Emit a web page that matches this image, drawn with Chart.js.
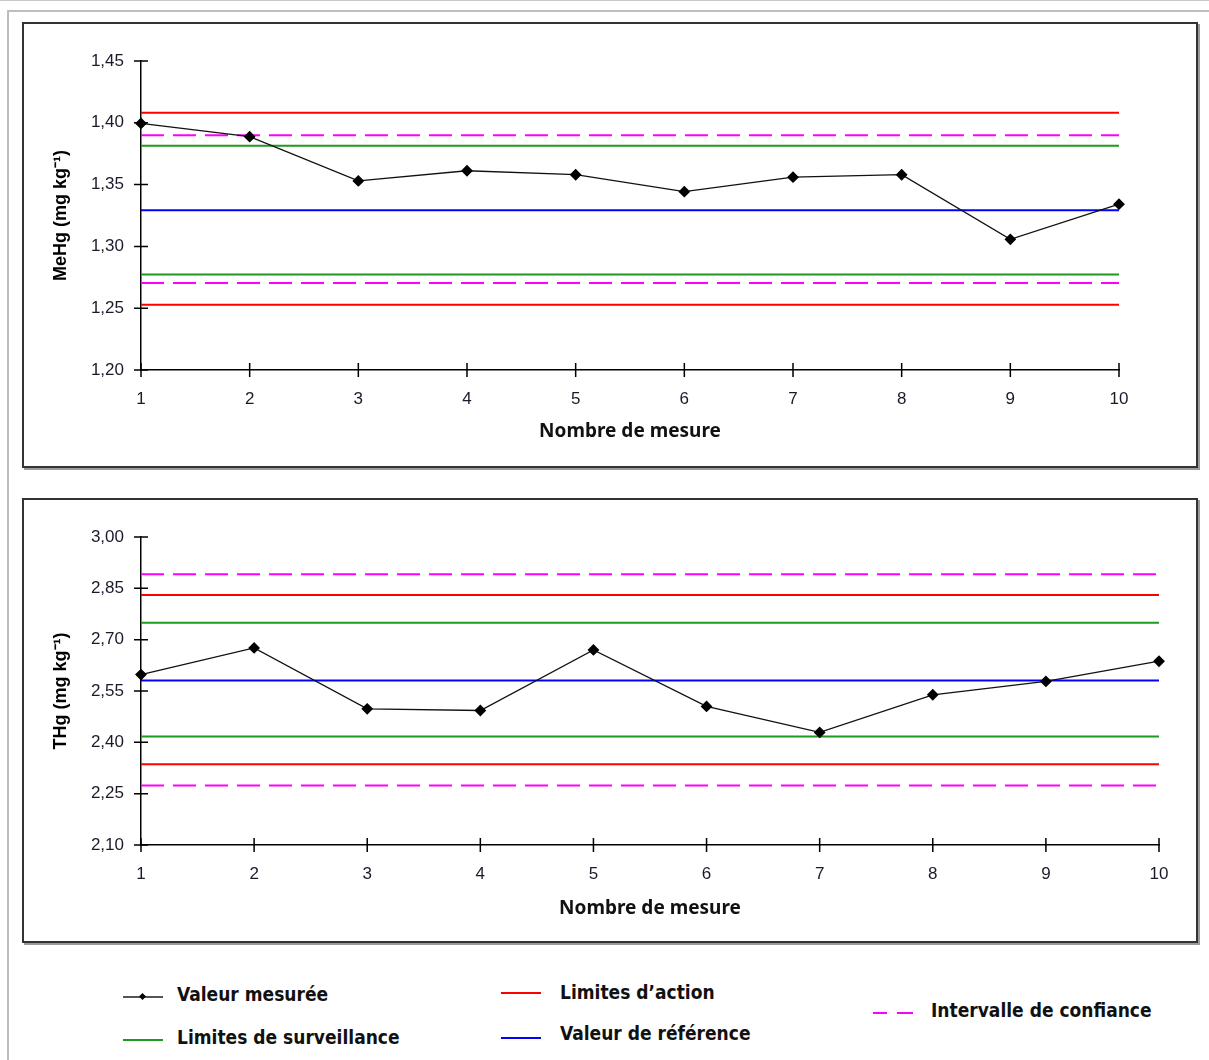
<!DOCTYPE html>
<html>
<head>
<meta charset="utf-8">
<script src="https://cdn.jsdelivr.net/npm/chart.js@4/dist/chart.umd.min.js"></script>
<style>
    body { margin: 0; background: #fff; width: 1209px; height: 1060px; overflow: hidden; position: relative; }
    .topline { position: absolute; left: 0; top: 0; width: 1209px; height: 1px; background: #c8c8c8; }
    .frame { position: absolute; left: 7px; top: 10px; width: 1210px; height: 1060px; border-top: 2px solid #bdbdbd; border-left: 2px solid #bdbdbd; }
    .box { position: absolute; left: 22px; width: 1172px; border: 2px solid #333; box-shadow: 2px 2px 0 #9a9a9a; background: #fff; }
    .box canvas { display: block; }
    .leg { position: absolute; font-family: "Liberation Sans Narrow", "DejaVu Sans Condensed", "Liberation Sans", sans-serif; font-weight: bold; font-size: 19px; color: #111; white-space: nowrap; line-height: 1; }
    .swatch { position: absolute; width: 40px; height: 0; }
</style>
</head>
<body>
<div class="topline"></div>
<div class="frame"></div>

<div class="box" style="top: 22px; height: 442px;"><canvas id="mehgChart" width="1172" height="442"></canvas></div>
<div class="box" style="top: 498px; height: 441px;"><canvas id="thgChart" width="1172" height="441"></canvas></div>

<div class="swatch" style="left: 123px; top: 996px; border-top: 2px solid #555;"></div>
<div style="position: absolute; left: 140px; top: 994px; width: 5px; height: 5px; background: #000; transform: rotate(45deg);"></div>
<div class="leg" style="left: 177px; top: 985px;">Valeur mesurée</div>

<div class="swatch" style="left: 123px; top: 1039px; border-top: 2px solid #1f9a1f;"></div>
<div class="leg" style="left: 177px; top: 1028px;">Limites de surveillance</div>

<div class="swatch" style="left: 501px; top: 992px; border-top: 2px solid #ff0000;"></div>
<div class="leg" style="left: 560px; top: 983px;">Limites d’action</div>

<div class="swatch" style="left: 501px; top: 1037px; border-top: 2px solid #0000ff;"></div>
<div class="leg" style="left: 560px; top: 1024px;">Valeur de référence</div>

<div class="swatch" style="left: 873px; top: 1012px; width: 14px; border-top: 2px solid #ff00ff;"></div>
<div class="swatch" style="left: 897px; top: 1012px; width: 16px; border-top: 2px solid #ff00ff;"></div>
<div class="leg" style="left: 931px; top: 1001px;">Intervalle de confiance</div>

<script>
const mesures = ['1', '2', '3', '4', '5', '6', '7', '8', '9', '10'];

// MeHg (top chart)
const mehgValeurs = [1.3995, 1.3888, 1.353, 1.3612, 1.358, 1.3443, 1.356, 1.358, 1.3057, 1.3342];
const mehgTicks = [1.20, 1.25, 1.30, 1.35, 1.40, 1.45];
const mehgReference = 1.3293;
const mehgSurveillance = [1.2773, 1.3815];
const mehgAction = [1.2527, 1.4082];
const mehgConfiance = [1.2703, 1.390];

// THg (bottom chart)
const thgValeurs = [2.598, 2.676, 2.498, 2.493, 2.670, 2.505, 2.429, 2.539, 2.578, 2.637];
const thgTicks = [2.10, 2.25, 2.40, 2.55, 2.70, 2.85, 3.00];
const thgReference = 2.5807;
const thgSurveillance = [2.4169, 2.7495];
const thgAction = [2.3358, 2.8305];
const thgConfiance = [2.2735, 2.891];

const crossTicks = {
    id: 'crossTicks',
    afterDraw(chart) {
        const {ctx, scales: {x, y}} = chart;
        ctx.save();
        ctx.strokeStyle = '#000';
        ctx.lineWidth = 1.5;
        ctx.beginPath();
        y.ticks.forEach((t, i) => {
            const py = y.getPixelForTick(i);
            ctx.moveTo(x.left - 7, py);
            ctx.lineTo(x.left + 7, py);
        });
        x.ticks.forEach((t, i) => {
            const px = x.getPixelForTick(i);
            ctx.moveTo(px, y.bottom - 7);
            ctx.lineTo(px, y.bottom + 7);
        });
        ctx.stroke();
        ctx.restore();
    }
};

function flatLine(value, color, dashed) {
    return {
        data: mesures.map(() => value),
        borderColor: color,
        borderWidth: 2,
        borderDash: dashed ? [23, 9] : [],
        pointRadius: 0,
        fill: false
    };
}

function makeChart(id, valeurs, ticks, reference, surveillance, action, confiance, yTitle, padRight, titlePad) {
    return new Chart(document.getElementById(id), {
        type: 'line',
        data: {
            labels: mesures,
            datasets: [
                {
                    label: 'Valeur mesurée',
                    data: valeurs,
                    borderColor: '#111',
                    borderWidth: 1.3,
                    pointStyle: 'rectRot',
                    pointRadius: 5,
                    pointBackgroundColor: '#000',
                    pointBorderColor: '#000',
                    clip: false
                },
                flatLine(action[0], '#ff0000'),
                flatLine(action[1], '#ff0000'),
                flatLine(surveillance[0], '#1f9a1f'),
                flatLine(surveillance[1], '#1f9a1f'),
                flatLine(reference, '#0000ff'),
                flatLine(confiance[0], '#ff00ff', true),
                flatLine(confiance[1], '#ff00ff', true)
            ]
        },
        options: {
            responsive: false,
            animation: false,
            layout: { padding: { left: 0, right: padRight, top: 37, bottom: 0 } },
            plugins: { legend: { display: false }, tooltip: { enabled: false } },
            elements: { line: { tension: 0 } },
            scales: {
                x: {
                    offset: false,
                    afterFit: s => { s.height = 96; },
                    grid: { display: true, drawOnChartArea: false, drawTicks: false },
                    border: { color: '#000', width: 1.5 },
                    ticks: { color: '#1a1a2a', padding: 19, font: { family: '"Liberation Sans", Arial', size: 17 }, maxRotation: 0 },
                    title: {
                        display: true,
                        text: 'Nombre de mesure',
                        color: '#111',
                        font: { family: '"Noto Sans", "Open Sans"', size: 19, weight: 'bold' },
                        padding: { top: titlePad, bottom: titlePad }
                    }
                },
                y: {
                    min: ticks[0],
                    max: ticks[ticks.length - 1],
                    afterFit: s => { s.width = 117; },
                    afterBuildTicks: s => { s.ticks = ticks.map(v => ({ value: v })); },
                    grid: { display: true, drawOnChartArea: false, drawTicks: false },
                    border: { color: '#000', width: 1.5 },
                    ticks: {
                        color: '#1a1a2a',
                        padding: 17,
                        font: { family: '"Liberation Sans", Arial', size: 17 },
                        callback: v => v.toFixed(2).replace('.', ',')
                    },
                    title: {
                        display: true,
                        text: yTitle,
                        color: '#000',
                        font: { family: '"Liberation Sans", Arial', size: 18, weight: 'bold' },
                        padding: { top: 26, bottom: 26 }
                    }
                }
            }
        },
        plugins: [crossTicks]
    });
}

makeChart('mehgChart', mehgValeurs, mehgTicks, mehgReference, mehgSurveillance, mehgAction, mehgConfiance,
    'MeHg (mg kg⁻¹)', 77, 23);
makeChart('thgChart', thgValeurs, thgTicks, thgReference, thgSurveillance, thgAction, thgConfiance,
    'THg (mg kg⁻¹)', 37, 21);
</script>
</body>
</html>
